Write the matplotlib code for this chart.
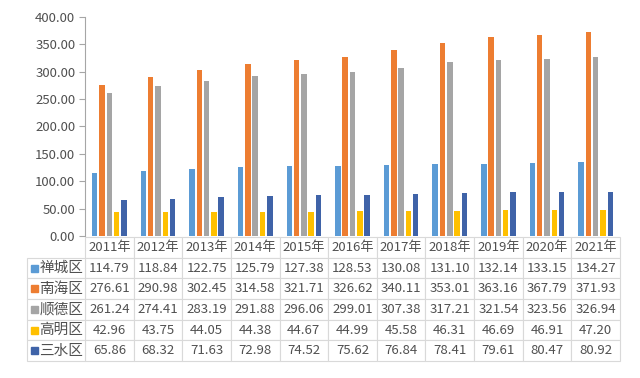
import matplotlib
matplotlib.use("Agg")
import matplotlib.pyplot as plt
import numpy as np

plt.rcParams['font.family'] = ['Noto Sans CJK SC', 'DejaVu Sans']

years = ["2011年", "2012年", "2013年", "2014年", "2015年", "2016年",
         "2017年", "2018年", "2019年", "2020年", "2021年"]
districts = ["禅城区", "南海区", "顺德区", "高明区", "三水区"]
chancheng = [114.79, 118.84, 122.75, 125.79, 127.38, 128.53, 130.08, 131.10, 132.14, 133.15, 134.27]
nanhai = [276.61, 290.98, 302.45, 314.58, 321.71, 326.62, 340.11, 353.01, 363.16, 367.79, 371.93]
shunde = [261.24, 274.41, 283.19, 291.88, 296.06, 299.01, 307.38, 317.21, 321.54, 323.56, 326.94]
gaoming = [42.96, 43.75, 44.05, 44.38, 44.67, 44.99, 45.58, 46.31, 46.69, 46.91, 47.20]
sanshui = [65.86, 68.32, 71.63, 72.98, 74.52, 75.62, 76.84, 78.41, 79.61, 80.47, 80.92]
series = [chancheng, nanhai, shunde, gaoming, sanshui]
colors = ["#5B9BD5", "#ED7D31", "#A5A5A5", "#FFC000", "#3F63A8"]

fig = plt.figure(figsize=(6.4, 3.78), dpi=100)
ax_w, ax_h = 535, 219
ax = fig.add_axes([85/640, 1-236/378, ax_w/640, ax_h/378])

x = np.arange(len(years))
w = 0.113
step = 0.15
for i, (vals, c) in enumerate(zip(series, colors)):
    ax.bar(x + (i-2)*step, vals, width=w, color=c, zorder=2)

ax.set_xlim(-0.5, len(years)-0.5)
ax.set_ylim(0, 400)
ax.set_yticks(np.arange(0, 401, 50))
ax.set_yticklabels([f"{v:.2f}" for v in np.arange(0, 401, 50)], fontsize=9.5, color="#505050")
ax.set_xticks([])
for s in ["top", "right", "bottom"]:
    ax.spines[s].set_visible(False)
ax.spines["left"].set_color("#A6A6A6")
ax.tick_params(axis="y", length=4, color="#A6A6A6", pad=3)

text_color = "#505050"
edge = "#D9D9D9"
tbl_top = 237
tbl_bot = 361
row_h = (tbl_bot - tbl_top) / 6.0

# data table (header + values), aligned with the bar categories
cell_text = [[f"{v:.2f}" for v in vals] for vals in series]
tbl = ax.table(cellText=cell_text, colLabels=years, cellLoc="center",
               bbox=[0, (236 - tbl_bot)/ax_h, 1, (tbl_bot - tbl_top)/ax_h])
tbl.auto_set_font_size(False)
for (r, c), cell in tbl.get_celld().items():
    cell.set_edgecolor(edge)
    cell.set_linewidth(0.8)
    cell.get_text().set_fontsize(9.5)
    cell.get_text().set_color(text_color)

# row label table
lbl_left = 27
lbl_tbl = ax.table(cellText=[[d] for d in districts], cellLoc="right",
                   bbox=[(lbl_left-85)/ax_w, (236 - tbl_bot)/ax_h,
                         (85-lbl_left)/ax_w, (tbl_bot - tbl_top - row_h)/ax_h])
lbl_tbl.auto_set_font_size(False)
for (r, c), cell in lbl_tbl.get_celld().items():
    cell.set_edgecolor(edge)
    cell.set_linewidth(0.8)
    cell.get_text().set_fontsize(10.5)
    cell.get_text().set_color(text_color)
    cell.PAD = 0.03

# colored legend keys in the row label cells
for i, c in enumerate(colors):
    yc = tbl_top + row_h * (i + 1.5)
    ax.add_patch(plt.Rectangle(((lbl_left + 4 - 85)/ax_w, (236 - yc - 3.5)/ax_h),
                               7/ax_w, 7/ax_h, transform=ax.transAxes,
                               color=c, clip_on=False))

fig.savefig("out.png", dpi=100, facecolor="white")
